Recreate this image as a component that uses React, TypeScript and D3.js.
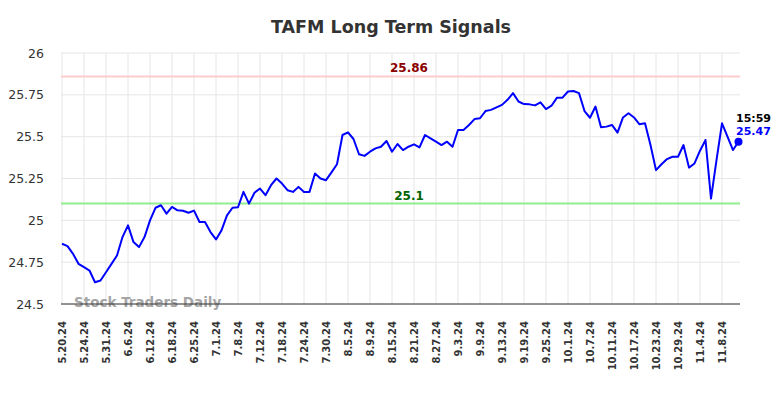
import React from 'react';
import * as d3 from 'd3';

const tickLabels = [
  '5.20.24', '5.24.24', '5.31.24', '6.6.24', '6.12.24', '6.18.24', '6.25.24', '7.1.24',
  '7.8.24', '7.12.24', '7.18.24', '7.24.24', '7.30.24', '8.5.24', '8.9.24', '8.15.24',
  '8.21.24', '8.27.24', '9.3.24', '9.9.24', '9.13.24', '9.19.24', '9.25.24', '10.1.24',
  '10.7.24', '10.11.24', '10.17.24', '10.23.24', '10.29.24', '11.4.24', '11.8.24',
];
const tickStep = 4;

const prices = [
  24.86, 24.846, 24.8, 24.74, 24.72, 24.7, 24.63, 24.64, 24.69, 24.74,
  24.79, 24.9, 24.97, 24.87, 24.84, 24.9, 25.0, 25.075, 25.09, 25.04,
  25.08, 25.06, 25.057, 25.045, 25.058, 24.99, 24.99, 24.93, 24.886, 24.94,
  25.03, 25.075, 25.078, 25.17, 25.1, 25.165, 25.19, 25.15, 25.21, 25.25,
  25.22, 25.18, 25.17, 25.2, 25.17, 25.17, 25.28, 25.25, 25.24, 25.287,
  25.335, 25.51, 25.526, 25.486, 25.395, 25.385, 25.41, 25.43, 25.44, 25.474,
  25.41, 25.456, 25.42, 25.44, 25.454, 25.436, 25.51, 25.49, 25.47, 25.45,
  25.47, 25.44, 25.54, 25.54, 25.57, 25.605, 25.61, 25.653, 25.66, 25.675,
  25.69, 25.72, 25.76, 25.71, 25.695, 25.693, 25.687, 25.705, 25.665, 25.685,
  25.733, 25.733, 25.77, 25.773, 25.76, 25.653, 25.613, 25.68, 25.556, 25.56,
  25.57, 25.524, 25.615, 25.64, 25.615, 25.574, 25.58, 25.45, 25.3, 25.335,
  25.366, 25.38, 25.38, 25.45, 25.315, 25.34, 25.416, 25.48, 25.13, 25.36,
  25.58, 25.5, 25.42, 25.47,
];

const yTicks = [24.5, 24.75, 25, 25.25, 25.5, 25.75, 26];
const upperSignal = 25.86;
const lowerSignal = 25.1;
const lastTime = '15:59';

const W = 784;
const H = 398;
const font = 'DejaVu Sans, sans-serif';

export default function App() {
  const x = d3.scaleLinear().domain([0, prices.length - 1]).range([62, 738.5]);
  const y = d3.scaleLinear().domain([24.5, 26]).range([304, 53]);
  const left = 61;
  const right = 740;

  const line = d3
    .line<number>()
    .x((_, i) => x(i))
    .y((d) => y(d));

  const lastIdx = prices.length - 1;
  const last = prices[lastIdx];

  return (
    <div style={{ position: 'absolute', left: 0, top: 0 }}>
      <svg width={W} height={H} style={{ display: 'block', background: '#fff' }} fontFamily={font}>
        <text x={391} y={33} textAnchor="middle" fontSize={17.5} fontWeight="bold" fill="#333">
          TAFM Long Term Signals
        </text>

        {/* grid */}
        {yTicks.map((t) => (
          <line key={'gy' + t} x1={left} x2={right} y1={y(t)} y2={y(t)} stroke="#e6e6e6" strokeWidth={1} />
        ))}
        {tickLabels.map((lab, k) => (
          <line
            key={'gx' + lab}
            x1={x(k * tickStep)}
            x2={x(k * tickStep)}
            y1={y(26)}
            y2={y(24.5)}
            stroke="#e6e6e6"
            strokeWidth={1}
          />
        ))}

        {/* y labels */}
        {yTicks.map((t) => (
          <text key={'yl' + t} x={44} y={y(t) + 4.5} textAnchor="end" fontSize={12.5} fill="#333">
            {t}
          </text>
        ))}

        {/* x labels */}
        {tickLabels.map((lab, k) => (
          <text
            key={'xl' + lab}
            transform={`translate(${x(k * tickStep) + 3.5},${321}) rotate(-90)`}
            textAnchor="end"
            fontSize={10}
            fontWeight="bold"
            fill="#333"
          >
            {lab}
          </text>
        ))}

        {/* signal lines */}
        <line x1={left} x2={right} y1={y(upperSignal)} y2={y(upperSignal)} stroke="#ffcccc" strokeWidth={2} />
        <line x1={left} x2={right} y1={y(lowerSignal)} y2={y(lowerSignal)} stroke="#90ee90" strokeWidth={2} />
        <text x={409} y={y(upperSignal) - 4} textAnchor="middle" fontSize={12} fontWeight="bold" fill="#8b0000">
          {upperSignal}
        </text>
        <text x={409} y={y(lowerSignal) - 4} textAnchor="middle" fontSize={12} fontWeight="bold" fill="#006400">
          {lowerSignal}
        </text>

        {/* watermark */}
        <text x={74} y={307} fontSize={13.5} fontWeight="bold" fill="#999" fillOpacity={0.9}>
          Stock Traders Daily
        </text>

        {/* axis baseline */}
        <line x1={left} x2={right} y1={y(24.5)} y2={y(24.5)} stroke="#333" strokeWidth={1} />

        {/* price line */}
        <path d={line(prices) || ''} fill="none" stroke="#0000ff" strokeWidth={2} strokeLinejoin="round" />
        <circle cx={x(lastIdx)} cy={y(last)} r={4} fill="#0000ff" />
        <text x={736} y={122} fontSize={11} fontWeight="bold" fill="#000">
          {lastTime}
        </text>
        <text x={736} y={135} fontSize={11} fontWeight="bold" fill="#0000ff">
          {last}
        </text>
      </svg>
    </div>
  );
}
